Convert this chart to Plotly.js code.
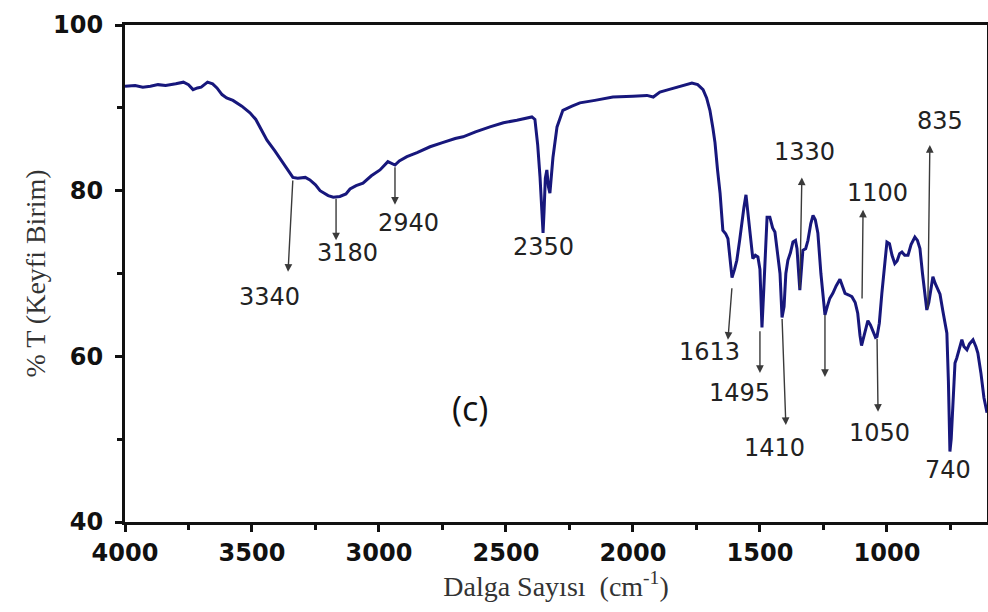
<!DOCTYPE html>
<html>
<head>
<meta charset="utf-8">
<script src="https://cdn.plot.ly/plotly-3.0.1.min.js"></script>
<style>
  html, body { margin: 0; padding: 0; background: #ffffff; }
  #chart { width: 988px; height: 612px; }
</style>
</head>
<body>
<div id="chart"></div>
<script>
// Wavenumber (cm^-1)
const wavenumber = [
  4000, 3960, 3930, 3900, 3870, 3840, 3800, 3770, 3750, 3732, 3715, 3700, 3675, 3655, 3638, 3618,
  3600, 3575, 3540, 3508, 3485, 3469, 3441, 3410, 3378, 3355, 3339, 3320, 3290, 3272, 3250, 3232,
  3200, 3180, 3154, 3130, 3114, 3090, 3063, 3030, 2996, 2965, 2950, 2937, 2920, 2890, 2850, 2799,
  2750, 2700, 2669, 2620, 2563, 2510, 2457, 2420, 2398, 2386, 2375, 2366, 2358, 2354, 2350, 2345,
  2339, 2333, 2327, 2315, 2299, 2276, 2240, 2209, 2150, 2079, 2000, 1945, 1920, 1894, 1860, 1827,
  1790, 1768, 1745, 1724, 1710, 1697, 1685, 1677, 1667, 1657, 1646, 1635, 1626, 1618, 1610, 1600,
  1591, 1580, 1571, 1563, 1555, 1547, 1539, 1528, 1518, 1508, 1500, 1495, 1492, 1485, 1477, 1472,
  1461, 1450, 1441, 1430, 1421, 1413, 1405, 1398, 1390, 1380, 1370, 1360, 1354, 1343, 1336, 1331,
  1320, 1311, 1300, 1291, 1282, 1272, 1260, 1250, 1244, 1235, 1225, 1213, 1200, 1185, 1175, 1165,
  1150, 1138, 1125, 1115, 1106, 1100, 1090, 1080, 1075, 1065, 1055, 1045, 1039, 1030, 1020, 1010,
  1000, 990, 980, 969, 960, 950, 941, 930, 917, 905, 890, 880, 870, 860, 850, 843,
  835, 825, 819, 810, 800, 791, 780, 764, 758, 752, 747, 740, 732, 725, 715, 705,
  697, 685, 675, 661, 650, 642, 630, 618, 606
];
// Transmittance (%T)
const transmittance = [
  92.6, 92.7, 92.5, 92.6, 92.8, 92.7, 92.9, 93.1, 92.8, 92.2, 92.4, 92.5, 93.1, 92.9, 92.4, 91.6,
  91.2, 90.9, 90.2, 89.4, 88.6, 87.7, 86.1, 84.8, 83.3, 82.3, 81.6, 81.5, 81.6, 81.3, 80.7, 80.0,
  79.4, 79.2, 79.3, 79.6, 80.2, 80.6, 80.9, 81.8, 82.5, 83.5, 83.3, 83.1, 83.6, 84.1, 84.6, 85.3,
  85.8, 86.3, 86.5, 87.1, 87.7, 88.2, 88.5, 88.8, 88.9, 88.6, 85.5, 81.7, 76.5, 74.9, 77.5, 81.5,
  82.5, 80.5, 79.7, 84.0, 87.7, 89.7, 90.2, 90.6, 90.9, 91.3, 91.4, 91.5, 91.3, 91.9, 92.2, 92.5,
  92.8, 93.0, 92.8, 92.2, 91.2, 89.7, 87.5, 85.8, 82.5, 79.7, 75.2, 74.8, 74.2, 71.5, 69.5, 70.5,
  71.6, 74.0, 76.4, 78.0, 79.5, 77.0, 74.9, 71.8, 72.2, 72.0, 70.5, 66.0, 63.5, 68.0, 74.0, 76.8,
  76.8, 75.5, 75.0, 72.0, 70.0, 64.7, 66.0, 70.0, 71.6, 72.5, 73.8, 74.0, 73.0, 68.0, 70.5, 72.8,
  73.0, 74.0, 76.0, 77.0, 76.5, 74.9, 70.0, 66.8, 65.0, 66.0, 67.0, 67.6, 68.5, 69.3, 68.5, 67.6,
  67.4, 67.2, 66.5, 65.2, 62.5, 61.3, 62.5, 64.0, 64.3, 63.8, 63.0, 62.3, 62.4, 64.0, 67.6, 71.0,
  73.8, 73.6, 72.2, 71.2, 71.5, 72.4, 72.6, 72.2, 72.2, 73.5, 74.4, 74.0, 73.0, 70.0, 67.5, 65.6,
  66.5, 68.8, 69.6, 68.8, 68.0, 67.5, 65.5, 62.8, 57.0, 48.5, 50.0, 54.0, 59.2, 59.8, 61.0, 62.0,
  61.2, 60.8, 61.5, 62.0, 61.2, 60.4, 58.0, 55.0, 53.2
];

// Peak labels and their arrows (tail on curve -> arrow tip), in data units
const peakLabels   = ['3340', '3180', '2940', '1613', '1495', '1410', '1330', '', '1100', '1050', '835'];
const arrowTailX   = [3339, 3169, 2937, 1610, 1500, 1413, 1343, 1244, 1098, 1039, 839];
const arrowTailY   = [81.4, 79.2, 83.0, 68.4, 63.2, 64.7, 68.0, 65.2, 66.8, 62.3, 65.6];
const arrowTipX    = [3358, 3169, 2937, 1626, 1500, 1398, 1335, 1244, 1094, 1035, 831];
const arrowTipY    = [70.2, 74.0, 78.3, 62.0, 58.0, 51.7, 81.6, 57.5, 77.7, 53.3, 85.5];
const labelX       = [3433, 3122, 2882, 1697, 1579, 1441, 1323, null, 1039, 1031, 791];
const labelY       = [67.2, 72.5, 76.1, 60.5, 55.6, 48.9, 84.7, null, 79.7, 50.7, 88.4];
// Labels without arrows
const plainLabels  = ['2350', '740'];
const plainLabelX  = [2354, 760];
const plainLabelY  = [73.2, 46.3];

const annotations = [];
for (let i = 0; i < arrowTailX.length; i++) {
  annotations.push({
    x: arrowTipX[i], y: arrowTipY[i], xref: 'x', yref: 'y',
    ax: arrowTailX[i], ay: arrowTailY[i], axref: 'x', ayref: 'y',
    text: '', showarrow: true, arrowhead: 2, arrowsize: 1.1, arrowwidth: 1.4,
    arrowcolor: '#3a3a3a', standoff: 0, startstandoff: 0
  });
  if (peakLabels[i]) {
    annotations.push({
      x: labelX[i], y: labelY[i], xref: 'x', yref: 'y', text: peakLabels[i],
      showarrow: false, font: { family: 'DejaVu Sans', size: 24, color: '#222222' }
    });
  }
}
for (let i = 0; i < plainLabels.length; i++) {
  annotations.push({
    x: plainLabelX[i], y: plainLabelY[i], xref: 'x', yref: 'y', text: plainLabels[i],
    showarrow: false, font: { family: 'DejaVu Sans', size: 24, color: '#222222' }
  });
}
annotations.push({
  x: 2642, y: 53.8, xref: 'x', yref: 'y', text: '(c)', showarrow: false,
  font: { family: 'Open Sans', size: 34, color: '#111111' }
});

const trace = {
  x: wavenumber, y: transmittance, type: 'scatter', mode: 'lines',
  line: { color: '#17177c', width: 3 }, hoverinfo: 'skip'
};

const layout = {
  width: 988, height: 612,
  margin: { l: 125, r: 1, t: 25, b: 90 },
  paper_bgcolor: '#ffffff', plot_bgcolor: '#ffffff',
  showlegend: false,
  xaxis: {
    range: [4000, 606], autorange: false,
    tickvals: [4000, 3500, 3000, 2500, 2000, 1500, 1000],
    ticks: 'outside', ticklen: 7, tickwidth: 3, tickcolor: '#111',
    minor: { tickvals: [3750, 3250, 2750, 2250, 1750, 1250, 750], ticks: 'outside', ticklen: 5, tickwidth: 3, tickcolor: '#111' },
    showline: true, linewidth: 3, linecolor: '#111', mirror: true,
    showgrid: false, zeroline: false,
    tickfont: { family: 'DejaVu Sans', size: 24, weight: 'bold', color: '#111' },
    ticklabelstandoff: 0,
    title: { text: 'Dalga Sayısı  (cm<sup>-1</sup>)', standoff: 0,
             font: { family: 'Liberation Serif', size: 28, color: '#333' } }
  },
  yaxis: {
    range: [40, 100], autorange: false,
    tickvals: [40, 60, 80, 100],
    ticks: 'outside', ticklen: 7, tickwidth: 3, tickcolor: '#111',
    minor: { tickvals: [50, 70, 90], ticks: 'outside', ticklen: 5, tickwidth: 3, tickcolor: '#111' },
    showline: true, linewidth: 3, linecolor: '#111', mirror: true,
    showgrid: false, zeroline: false,
    tickfont: { family: 'DejaVu Sans', size: 24, weight: 'bold', color: '#111' },
    ticklabelstandoff: 7,
    title: { text: '% T (Keyfi Birim)', standoff: 0,
             font: { family: 'Liberation Serif', size: 28, color: '#333' } }
  },
  annotations: annotations
};

Plotly.newPlot('chart', [trace], layout, { displayModeBar: false, staticPlot: true });
</script>
</body>
</html>
